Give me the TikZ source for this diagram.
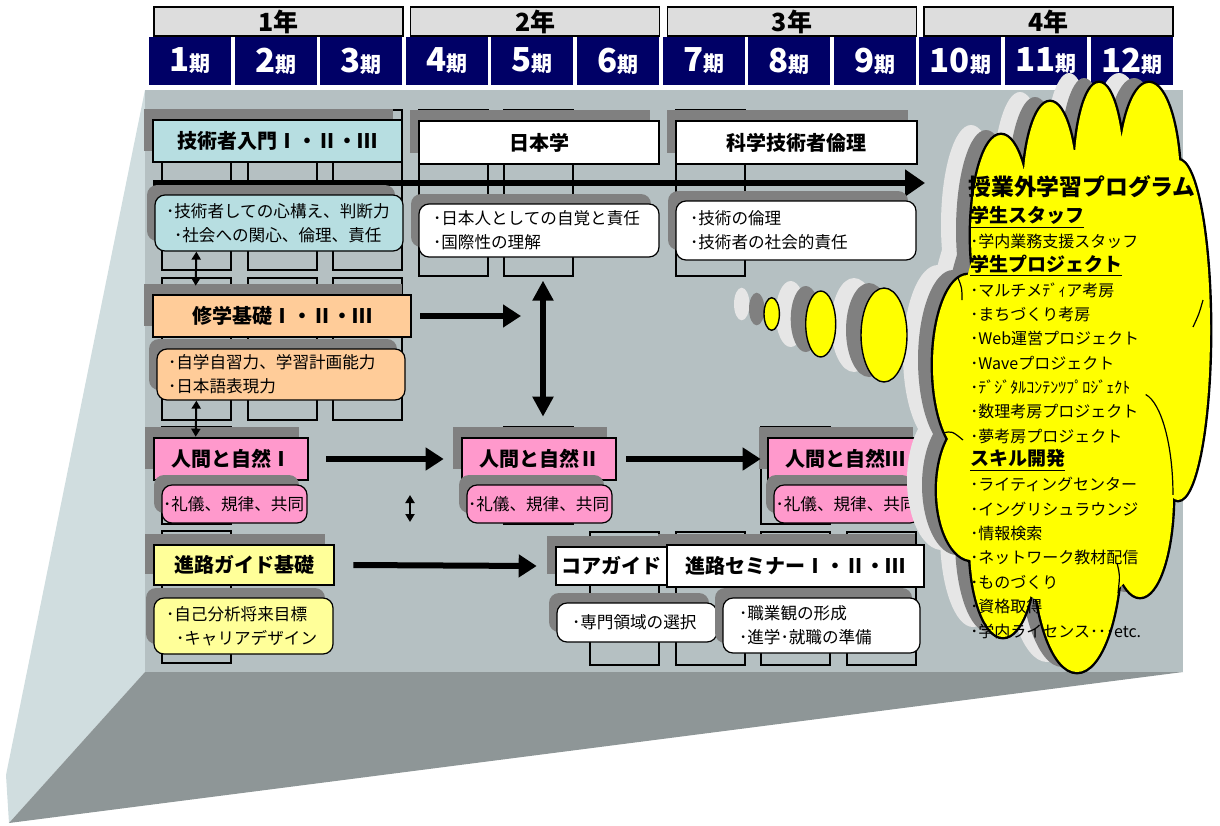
\documentclass[tikz,border=0pt]{standalone}
\usepackage{fontspec}
\setmainfont{Noto Sans CJK JP}
\usetikzlibrary{arrows.meta}
\usetikzlibrary{shadows}

\definecolor{panel}{RGB}{181,192,194}
\definecolor{sideface}{RGB}{208,221,223}
\definecolor{bottomface}{RGB}{142,150,151}
\definecolor{shgray}{RGB}{128,128,128}
\definecolor{ltgray}{RGB}{230,230,230}
\definecolor{yearfill}{RGB}{221,221,221}
\definecolor{navy}{RGB}{0,0,102}
\definecolor{cyanbox}{RGB}{183,222,225}
\definecolor{peach}{RGB}{255,204,153}
\definecolor{pinkbox}{RGB}{255,153,204}
\definecolor{paleyellow}{RGB}{255,255,153}
\definecolor{cloudyellow}{RGB}{255,255,0}

\newcommand{\hd}[1]{{\bfseries\fontsize{9.5}{10}\selectfont\underline{#1}}}
\newcommand{\cloudbumps}{(1001,235) ellipse [x radius=30, y radius=100]
  (1050,195) ellipse [x radius=27, y radius=93]
  (1099,180) ellipse [x radius=25, y radius=97]
  (1149,185) ellipse [x radius=31, y radius=102]
  (1178,330) ellipse [x radius=32, y radius=170]
  (1140,495) ellipse [x radius=33, y radius=102]
  (1077,545) ellipse [x radius=44, y radius=127]
  (1003,545) ellipse [x radius=33, y radius=92]
  (972,490) ellipse [x radius=35, y radius=70]
  (968,365) ellipse [x radius=35, y radius=90]}
\newcommand{\cloudcore}{(1070,380) ellipse [x radius=115, y radius=230]}

\tikzset{
  yearbox/.style={draw=black, line width=0.7pt, fill=yearfill, minimum width=124.5pt, minimum height=14.5pt, inner sep=0pt, font=\bfseries\fontsize{12.5}{12.5}\selectfont},
  termbox/.style={fill=navy, text=white, minimum width=41pt, minimum height=24pt, inner sep=0pt, font=\bfseries},
  slot/.style={draw=black, line width=1pt, fill=panel},
  ttl/.style={draw=black, line width=1.3pt, inner sep=0pt, minimum height=21pt, font=\bfseries\fontsize{10}{10}\selectfont,
    drop shadow={shadow xshift=-4.5pt, shadow yshift=5.5pt, fill=shgray, opacity=1}},
  desc/.style={draw=black, line width=0.6pt, rounded corners=5pt, align=left, inner ysep=0pt, font=\fontsize{8.3}{12}\selectfont,
    drop shadow={shadow xshift=-4pt, shadow yshift=5pt, fill=shgray, opacity=1}},
  bigarrow/.style={line width=3pt, -{Triangle[length=9pt,width=11pt]}},
  dblarrow/.style={line width=3pt, {Triangle[length=10pt,width=10pt]}-{Triangle[length=10pt,width=10pt]}},
  smallarrow/.style={line width=1pt, {Triangle[length=4pt,width=4.5pt]}-{Triangle[length=4pt,width=4.5pt]}},
  cloudtext/.style={anchor=west, inner sep=0pt, font=\fontsize{8}{10}\selectfont}
}

\begin{document}
\begin{tikzpicture}[x=0.5pt,y=-0.5pt]
    \useasboundingbox (0,0) rectangle (1220,825);

    \fill[sideface] (145,90) -- (145,672) -- (9,823) -- (6,775) -- cycle;
    \fill[bottomface] (145,672) -- (1183,672) -- (9,823) -- cycle;
    \fill[panel] (145,90) rectangle (1183,672);

    \foreach \yr in {1,...,4}
        \node[yearbox] (yr\yr) at ({278.5+256.7*(\yr-1)},21.5) {\yr 年};
    \foreach \n in {1,...,12}
        \node[termbox] (tm\n) at ({190+85.6*(\n-1)},61) {{\fontsize{16.5}{16.5}\selectfont\n}{\fontsize{10.5}{10.5}\selectfont 期}};

    \foreach \n/\ya/\yb in {1/110/270,2/110/270,3/110/270,1/278/420,2/278/420,3/278/420,1/427/524,1/531/663,
        4/110/276,5/110/276,7/110/276,5/427/524,8/427/524,6/532/665,7/532/665,8/532/665,9/532/665}
        \draw[slot] ({149+85.6*(\n-1)+13},\ya) rectangle ({149+85.6*(\n-1)+82},\yb);

    \coordinate (lstart) at (153,183);
    \coordinate (lend) at (925,183);
    \draw[line width=3pt, -{Triangle[length=10pt,width=13pt]}] (lstart) -- (lend);

    \node[ttl, fill=cyanbox, minimum width=124.5pt] (gijutsu) at (277.5,141) {技術者入門Ⅰ・Ⅱ・Ⅲ};
    \node[desc, fill=cyanbox, minimum height=28pt, inner xsep=5.5pt, text width=113pt] (gijutsud) at (279,223)
        {･技術者しての心構え、判断力\\\hspace*{4pt}･社会への関心、倫理、責任};
    \node[ttl, fill=peach, minimum width=129pt] (shugaku) at (282,316) {修学基礎Ⅰ・Ⅱ・Ⅲ};
    \node[desc, fill=peach, minimum height=25.5pt, inner xsep=5.5pt, text width=113pt] (shugakud) at (281,374.5)
        {･自学自習力、学習計画能力\\･日本語表現力};
    \node[ttl, fill=pinkbox, minimum width=77pt] (ningen1) at (231,459) {人間と自然Ⅰ};
    \node[desc, fill=pinkbox, minimum height=19pt, inner xsep=0.5pt, text width=71.5pt] (ningen1d) at (234.5,504) {･礼儀、規律、共同};
    \node[ttl, fill=paleyellow, minimum width=90pt, minimum height=20pt] (shinro) at (244,565) {進路ガイド基礎};
    \node[desc, fill=paleyellow, minimum height=28pt, inner xsep=6pt, text width=77.5pt] (shinrod) at (243.5,626)
        {･自己分析将来目標\\\hspace*{5pt}･キャリアデザイン};

    \node[ttl, fill=white, minimum width=120pt, minimum height=21.5pt] (nihon) at (539,142.5) {日本学};
    \node[desc, fill=white, minimum height=26.5pt, inner xsep=7pt, text width=106pt] (nihond) at (539,230.5)
        {･日本人としての自覚と責任\\･国際性の理解};
    \node[ttl, fill=white, minimum width=120.5pt, minimum height=21.5pt] (kagaku) at (796.5,142.5) {科学技術者倫理};
    \node[desc, fill=white, minimum height=29.5pt, inner xsep=7pt, text width=106pt] (kagakud) at (796,230.5)
        {･技術の倫理\\･技術者の社会的責任};
    \node[ttl, fill=pinkbox, minimum width=77pt] (ningen2) at (539,459) {人間と自然Ⅱ};
    \node[desc, fill=pinkbox, minimum height=19pt, inner xsep=0.5pt, text width=71.5pt] (ningen2d) at (539.5,504) {･礼儀、規律、共同};
    \node[ttl, fill=pinkbox, minimum width=77pt] (ningen3) at (845,459) {人間と自然Ⅲ};
    \node[desc, fill=pinkbox, minimum height=19pt, inner xsep=0.75pt, text width=71.5pt] (ningen3d) at (847,504) {･礼儀、規律、共同};

    \node[ttl, fill=white, minimum width=128.5pt] (seminar) at (795.5,566) {進路セミナーⅠ・Ⅱ・Ⅲ};
    \node[ttl, fill=white, minimum width=55.5pt, minimum height=19pt] (core) at (611.5,566) {コアガイド};
    \node[desc, fill=white, minimum height=19.5pt, inner xsep=7.5pt, text width=65pt] (cored) at (637,622.5) {･専門領域の選択};
    \node[desc, fill=white, minimum height=27.5pt, inner xsep=8pt, text width=82.5pt] (seminard) at (821.5,625.5)
        {･職業観の形成\\･進学･就職の準備};

    \coordinate (shugakuto) at (521,316);
    \draw[bigarrow] ([xshift=4pt]shugaku.east) -- (shugakuto);
    \draw[dblarrow] ([xshift=2pt,yshift=-11.5pt]nihond.south) -- ([xshift=2pt,yshift=10pt]ningen2.north);
    \draw[bigarrow] ([xshift=8.5pt]ningen1.east) -- ([xshift=-8.5pt]ningen2.west);
    \draw[bigarrow] ([xshift=4.5pt]ningen2.east) -- ([xshift=-3pt]ningen3.west);
    \draw[bigarrow] ([xshift=9pt]shinro.east) -- ([xshift=-9pt]core.west);
    \draw[smallarrow] ([xshift=21pt]gijutsud.south west) -- ([xshift=22pt,yshift=4pt]shugaku.north west);
    \draw[smallarrow] ([xshift=20pt]shugakud.south west) -- ([xshift=21.5pt]ningen1.north west);
    \coordinate (fa1) at (410,495);
    \coordinate (fa2) at (410,522);
    \draw[smallarrow] (fa1) -- (fa2);

    \foreach \cx/\cy/\rx/\ry in {771.7/314/7.7/16.3,820.7/324/15/33,884/335/23/47}
        \fill[ltgray] (\cx-30,\cy-10) ellipse [x radius=\rx, y radius=\ry];
    \foreach \cx/\cy/\rx/\ry in {771.7/314/7.7/16.3,820.7/324/15/33,884/335/23/47}
        \fill[shgray] (\cx-15,\cy-5) ellipse [x radius=\rx, y radius=\ry];
    \fill[ltgray, shift={(-30,-10)}] \cloudbumps \cloudcore;
    \fill[shgray, shift={(-15,-5)}] \cloudbumps \cloudcore;
    \foreach \cx/\cy/\rx/\ry in {771.7/314/7.7/16.3,820.7/324/15/33,884/335/23/47}
        \draw[fill=cloudyellow, line width=0.7pt] (\cx,\cy) ellipse [x radius=\rx, y radius=\ry];
    \draw[line width=2.4pt] \cloudbumps;
    \fill[cloudyellow] \cloudbumps \cloudcore;
    \draw[line width=0.6pt] (1145.7,394.5) arc [start angle=-80, end angle=0, x radius=33, y radius=102];
    \draw[line width=0.6pt] (1203,300) .. controls (1199,314) .. (1193,327);
    \draw[line width=0.6pt] (1117,563) .. controls (1120,575) .. (1118,593);
    \draw[line width=0.6pt] (943,433) .. controls (952,431) .. (963,440);
    \draw[line width=0.6pt] (958,278) .. controls (962,288) .. (962,300);

    \node[cloudtext, font=\bfseries\fontsize{11.4}{12}\selectfont] (cloudtitle) at (968,187) {授業外学習プログラム};
    \foreach \txt [count=\i] in {\hd{学生スタッフ},･学内業務支援スタッフ,\hd{学生プロジェクト},･マルチメﾃﾞｨア考房,･まちづくり考房,
        ･Web運営プロジェクト,･Waveプロジェクト,･ﾃﾞｼﾞﾀﾙｺﾝﾃﾝﾂﾌﾟﾛｼﾞｪｸﾄ,･数理考房プロジェクト,･夢考房プロジェクト,
        \hd{スキル開発},･ライティングセンター,･イングリシュラウンジ,･情報検索,･ネットワーク教材配信,･ものづくり,･資格取得,
        ･学内ライセンス･･･etc.}
        \node[cloudtext] (cl\i) at (970,{217+24.35*(\i-1)}) {\txt};

\end{tikzpicture}
\end{document}
